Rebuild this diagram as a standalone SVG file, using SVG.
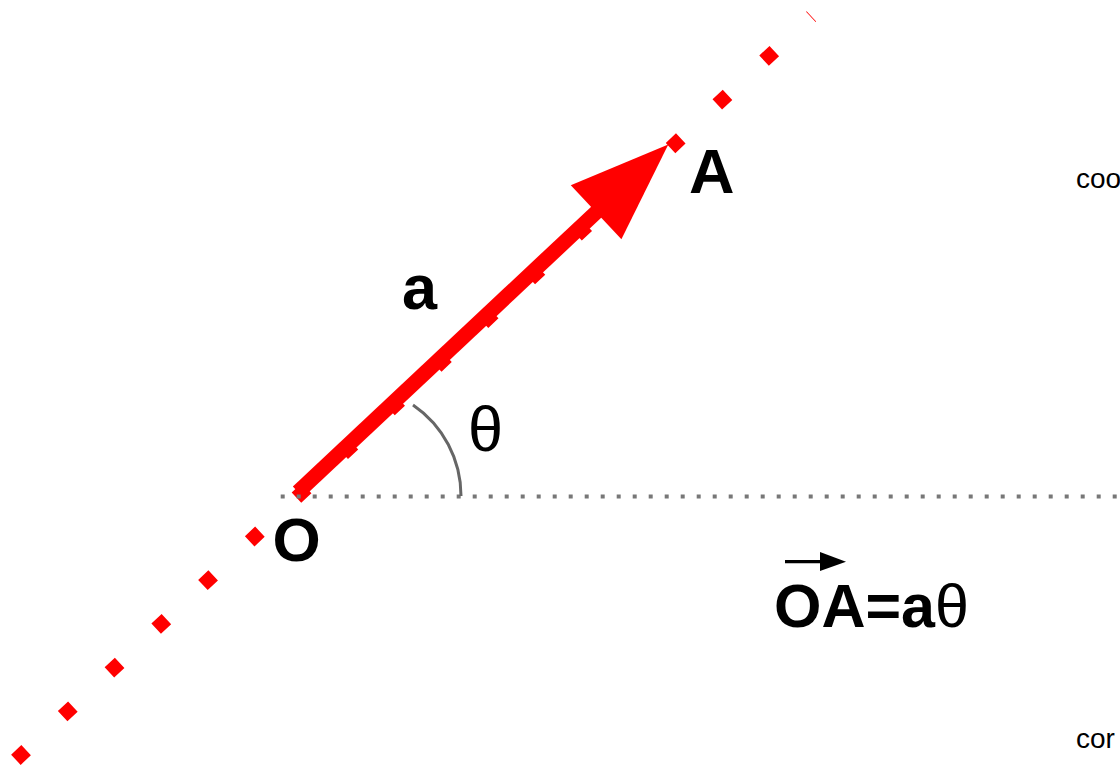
<svg xmlns="http://www.w3.org/2000/svg" width="1120" height="768" viewBox="0 0 1120 768">
<defs>
<style>
.lbl{font-family:"Liberation Sans",Arial,sans-serif;font-weight:bold;fill:#000;}
.greek{font-family:"Liberation Sans",Arial,sans-serif;font-weight:normal;fill:#000;}
.side{font-family:"Liberation Sans",Arial,sans-serif;font-size:28px;fill:#000;}
</style>
<marker id="bigHead" markerUnits="userSpaceOnUse" markerWidth="100" markerHeight="76" refX="4" refY="37" orient="auto" overflow="visible">
<path d="M0,0 L99,37 L0,74 Z" fill="#ff0000"/>
</marker>
</defs>
<rect width="1120" height="768" fill="#fff"/>
<g id="connectors">
<line id="line-OA" x1="-2.38" y1="776.85" x2="811.4" y2="16.4" stroke="#ff0000" stroke-width="14" stroke-dasharray="14 50" stroke-dashoffset="39"/>
<line id="vector-a" x1="298" y1="492" x2="599" y2="209.6" stroke="#ff0000" stroke-width="15" marker-end="url(#bigHead)"/>
<line id="axis" x1="280.7" y1="496.5" x2="1120" y2="496.5" stroke="#777" stroke-width="4" stroke-dasharray="4 12"/>
<path id="angle-arc" d="M413,405 A110,110 0 0 1 461,496" fill="none" stroke="#666" stroke-width="3"/>
</g>
<g id="node-O"><text class="lbl" x="272.5" y="560.5" font-size="62">O</text></g>
<g id="node-A"><text class="lbl" x="689" y="192.7" font-size="63">A</text></g>
<g id="label-a"><text class="lbl" x="402" y="308.5" font-size="63">a</text></g>
<g id="label-theta"><text class="greek" x="468" y="451" font-size="63">θ</text></g>
<g id="formula">
<line x1="785" y1="561.7" x2="824" y2="561.7" stroke="#000" stroke-width="3.3"/>
<path d="M820,552 L846,561.7 L820,571 Z" fill="#000"/>
<text class="lbl" x="774" y="627" font-size="61">OA=a<tspan class="greek">θ</tspan></text>
</g>
<g id="side-text">
<text class="side" x="1076" y="188">coo</text>
<text class="side" x="1076" y="748">cor</text>
</g>
</svg>
